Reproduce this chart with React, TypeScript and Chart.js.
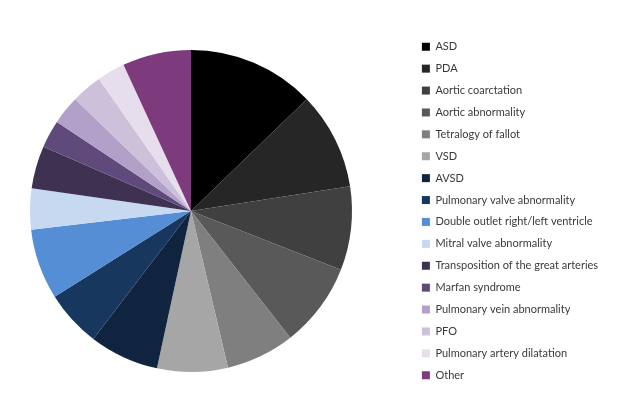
import React, { useEffect, useRef } from "react";
import { Chart, registerables } from "chart.js";

Chart.register(...registerables);

const categories: string[] = [
  "ASD",
  "PDA",
  "Aortic coarctation",
  "Aortic abnormality",
  "Tetralogy of fallot",
  "VSD",
  "AVSD",
  "Pulmonary valve abnormality",
  "Double outlet right/left ventricle",
  "Mitral valve abnormality",
  "Transposition of the great arteries",
  "Marfan syndrome",
  "Pulmonary vein abnormality",
  "PFO",
  "Pulmonary artery dilatation",
  "Other",
];

const shares: number[] = [12.8, 9.8, 8.4, 8.5, 6.9, 7.1, 7.0, 5.7, 7.1, 4.1, 4.3, 2.8, 2.9, 3.1, 2.8, 6.9];

const sliceColors: string[] = [
  "#000000",
  "#262626",
  "#404040",
  "#595959",
  "#7f7f7f",
  "#a6a6a6",
  "#10243f",
  "#17375e",
  "#558ed5",
  "#c6d9f1",
  "#3f3151",
  "#5f4a7b",
  "#b2a0c8",
  "#ccc0da",
  "#e6deec",
  "#7d3a7d",
];

const CANVAS_W = 650;
const CANVAS_H = 395;
const SHIFT = 29;
const FONT_SIZE = 11;
const FONT_FAMILY = "Lato";
const BOX = 8;
const LABEL_PAD = 10.9;
const AREA_RIGHT = 440;

export default function App() {
  const ref = useRef<HTMLCanvasElement | null>(null);

  useEffect(() => {
    const canvas = ref.current;
    if (!canvas) return;
    const ctx = canvas.getContext("2d")!;
    ctx.font = `${FONT_SIZE}px ${FONT_FAMILY}`;
    let maxText = 0;
    categories.forEach((c) => {
      maxText = Math.max(maxText, ctx.measureText(c).width);
    });
    const legendWidth = LABEL_PAD + BOX + FONT_SIZE / 2 + maxText + 10;
    const rightPad = Math.max(0, CANVAS_W - AREA_RIGHT - legendWidth);

    const chart = new Chart(canvas, {
      type: "pie",
      data: {
        labels: categories,
        datasets: [
          {
            data: shares,
            backgroundColor: sliceColors,
            borderWidth: 0,
            radius: 161,
          },
        ],
      },
      options: {
        responsive: false,
        animation: false,
        devicePixelRatio: 1,
        layout: { padding: { left: 0, right: rightPad, top: 27, bottom: 0 } },
        plugins: {
          tooltip: { enabled: false },
          legend: {
            position: "right",
            align: "center",
            labels: {
              boxWidth: BOX,
              boxHeight: BOX,
              padding: LABEL_PAD,
              color: "#3a3a3a",
              font: { family: FONT_FAMILY, size: FONT_SIZE },
            },
          },
        },
      },
    });
    return () => chart.destroy();
  }, []);

  return (
    <div style={{ position: "absolute", left: -SHIFT, top: 0, width: CANVAS_W, height: CANVAS_H, background: "#fff" }}>
      <canvas ref={ref} width={CANVAS_W} height={CANVAS_H} />
    </div>
  );
}
